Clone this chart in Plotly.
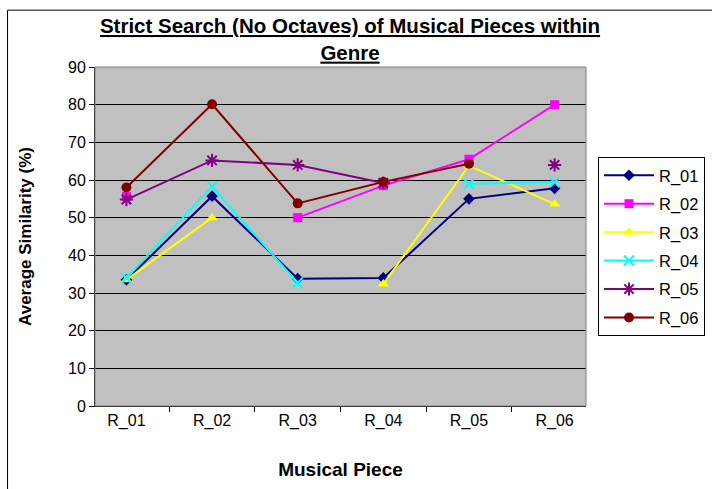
import plotly.graph_objects as go

pieces = ["R_01", "R_02", "R_03", "R_04", "R_05", "R_06"]
y_ticks = [0, 10, 20, 30, 40, 50, 60, 70, 80, 90]

r01 = [33.5, 55.7, 33.8, 34.0, 55.0, 57.8]
r02 = [55.6, None, 50.0, 58.5, 65.5, 80.0]
r03 = [33.5, 50.0, None, 32.4, 63.8, 53.6]
r04 = [34.0, 58.3, 32.7, None, 59.0, 59.4]
r05 = [54.8, 65.2, 64.0, 59.2, None, 64.0]
r06 = [58.0, 80.1, 53.8, 59.5, 64.3, None]

series = [
    ("R_01", r01, "#000080", "diamond", 9),
    ("R_02", r02, "#FF00FF", "square", 9),
    ("R_03", r03, "#FFFF00", "triangle-up", 10),
    ("R_04", r04, "#00FFFF", "x-thin-open", 10),
    ("R_05", r05, "#800080", "asterisk-open", 11),
    ("R_06", r06, "#800000", "circle", 10),
]

fig = go.Figure()
for i, (name, vals, color, sym, size) in enumerate(series):
    open_sym = sym.endswith("-open")
    fig.add_trace(go.Scatter(
        x=pieces, y=vals, name=name, mode="lines+markers",
        legendgroup=f"g{i}",
        line=dict(color=color, width=2),
        marker=dict(symbol=sym, size=size, color=color,
                    line=dict(color=color, width=2 if open_sym else 0)),
        connectgaps=False,
    ))

font = "Liberation Sans, Arial, sans-serif"
fig.update_layout(
    width=712, height=489,
    margin=dict(l=95, r=123, t=67, b=82),
    paper_bgcolor="white",
    plot_bgcolor="#C0C0C0",
    font=dict(family=font, size=16, color="black"),
    title=dict(
        text="<b><u>Strict Search (No Octaves) of Musical Pieces within</u></b><br><b><u>Genre</u></b>",
        x=350 / 712, xanchor="center", xref="container",
        y=1 - 33 / 489, yanchor="top", yref="container",
        font=dict(size=20.5, family=font),
    ),
    xaxis=dict(
        type="category", tickson="boundaries", ticks="outside", ticklen=5,
        tickcolor="black", showline=True, linecolor="black", linewidth=1,
        showgrid=False, tickfont=dict(size=16),
        title=dict(text="<b>Musical Piece</b>", font=dict(size=19), standoff=33),
        mirror=False,
    ),
    yaxis=dict(
        range=[0, 90], tickvals=y_ticks, ticks="outside", ticklen=5,
        tickcolor="black", showline=True, linecolor="black", linewidth=1,
        showgrid=True, gridcolor="black", gridwidth=1, zeroline=False,
        tickfont=dict(size=16),
        title=dict(text="<b>Average Similarity (%)</b>", font=dict(size=17), standoff=32),
    ),
    legend=dict(
        x=598 / 712, xref="container", xanchor="left",
        y=1 - 157 / 489, yref="container", yanchor="top",
        bgcolor="white", bordercolor="black", borderwidth=1,
        font=dict(size=16.5), tracegroupgap=4, itemwidth=50,
    ),
    showlegend=True,
)

# plot-area frame and outer chart border
fig.add_shape(type="rect", xref="paper", yref="paper", x0=0, x1=1, y0=0, y1=1,
              line=dict(color="#808080", width=1), layer="above")
fig.add_shape(type="rect", xref="paper", yref="paper",
              x0=(7 - 95) / 494, x1=(720 - 95) / 494,
              y0=(407 - 500) / 340, y1=(407 - 10) / 340,
              line=dict(color="black", width=1), layer="below")

fig.write_html("out.html")
